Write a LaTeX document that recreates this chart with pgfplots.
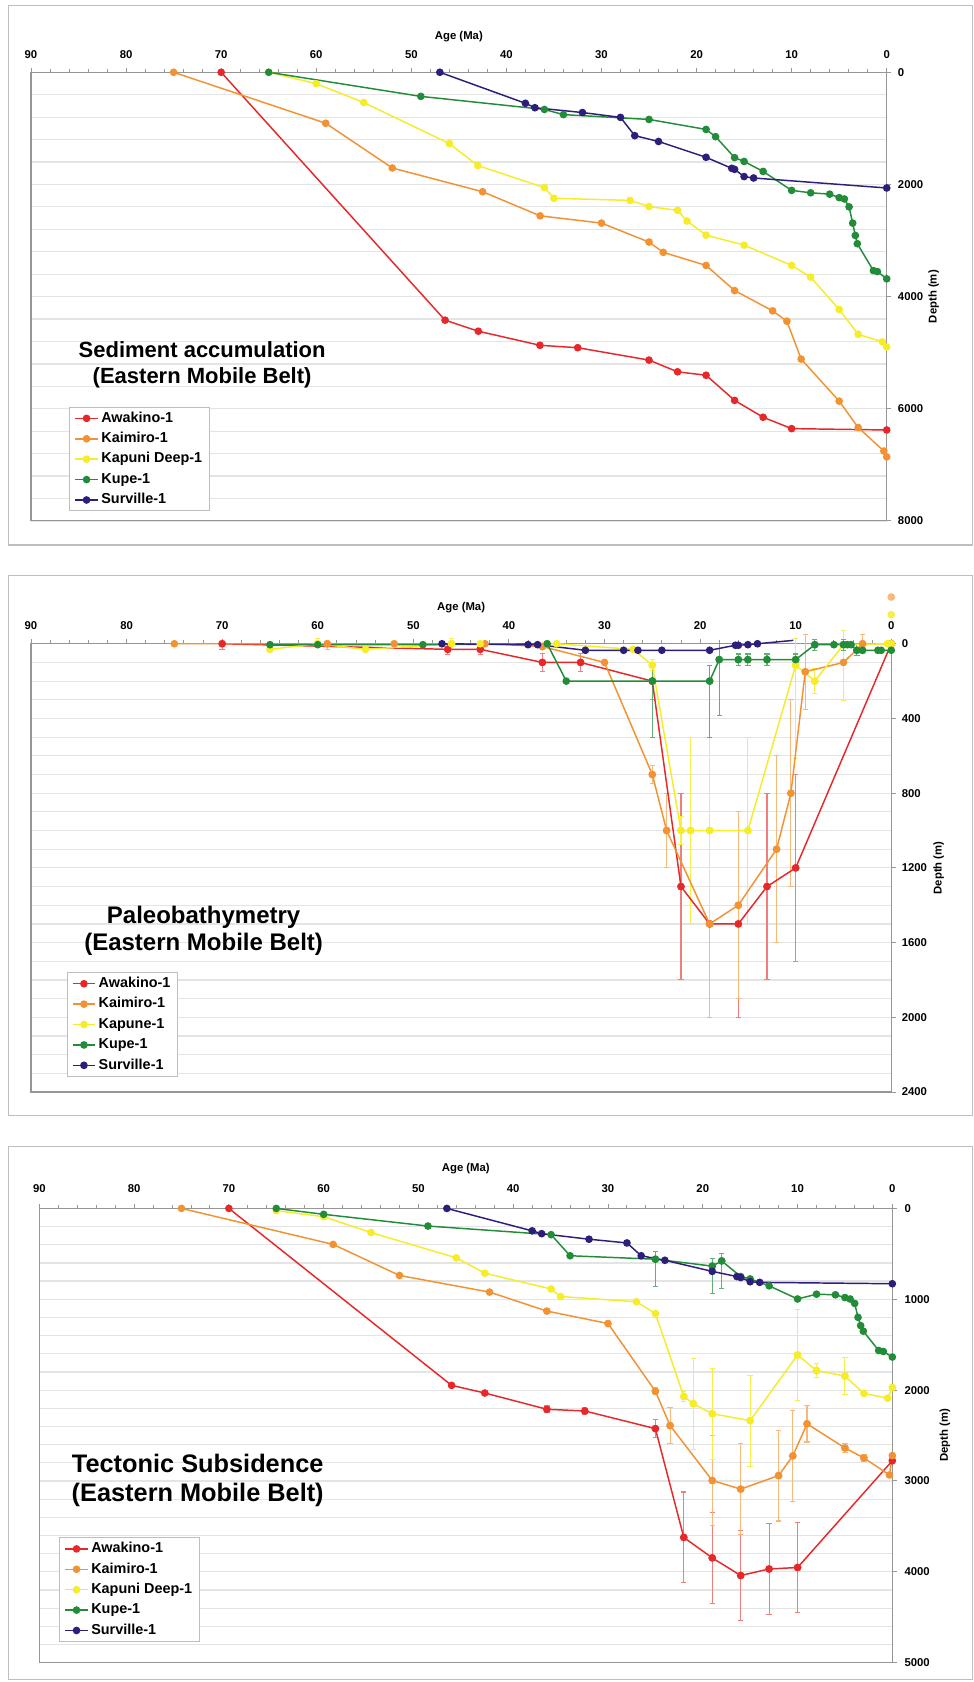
\documentclass[border=0pt]{standalone}
\usepackage{fontspec}
\setmainfont{Liberation Sans}
\usepackage{pgfplots}
\pgfplotsset{compat=1.18}
\definecolor{awred}{RGB}{230,40,42}
\definecolor{kaor}{RGB}{242,146,50}
\definecolor{kayel}{RGB}{246,236,40}
\definecolor{kugreen}{RGB}{34,140,56}
\definecolor{svnavy}{RGB}{44,30,122}
\definecolor{framegray}{RGB}{190,190,190}
\definecolor{gridgray}{RGB}{228,228,228}
\definecolor{axgray}{RGB}{150,150,150}
\newcommand{\tlfont}{\fontsize{8.5}{10}\selectfont\bfseries}
\pgfplotsset{
 panel/.style={
  scale only axis, x dir=reverse, y dir=reverse,
  xmin=0, xmax=90, xtick={0,10,...,90}, minor x tick num=4,
  xtick pos=top, xticklabel pos=top, ytick pos=right, yticklabel pos=right,
  axis line style={draw=axgray, line width=0.8pt},
  every tick/.style={draw=axgray, line width=0.7pt},
  tick align=outside,
  major tick length=3.5pt, minor tick length=2.5pt,
  minor y tick style={draw=none},
  ymajorgrids, yminorgrids,
  major grid style={draw=gridgray, line width=0.9pt},
  minor grid style={draw=gridgray, line width=0.9pt},
  tick label style={font=\tlfont},
  /pgf/number format/assume math mode=true,
  /pgf/number format/1000 sep={},
  legend cell align=left,
  legend style={draw=framegray, line width=0.7pt, inner ysep=2pt, inner xsep=3.5pt,
    font=\fontsize{10.8}{12}\selectfont\bfseries, row sep=2.9pt,
    nodes={inner xsep=2pt, inner ysep=1pt, text height=8pt, text depth=2.4pt},
    anchor=north west},
  clip=false,
  every axis plot/.append style={line width=1.1pt, mark=*, mark size=2.3pt},
 },
 errs/.style={forget plot, only marks, mark=none,
   error bars/y dir=both, error bars/y explicit,
   error bars/error bar style={line width=0.8pt},
   error bars/error mark options={rotate=90, mark size=2pt, line width=0.8pt}},
}
\begin{document}
\begin{tikzpicture}
\useasboundingbox (0pt,0pt) rectangle (730.5pt,-1261.5pt);
\fill[white] (0pt,0pt) rectangle (730.5pt,-1261.5pt);
\draw[framegray, line width=0.8pt] (6.2pt,-3.9pt) rectangle (729.4pt,-408.75pt);
\draw[framegray, line width=0.8pt] (6.2pt,-431.5pt) rectangle (729.4pt,-836.6pt);
\draw[framegray, line width=0.8pt] (6.2pt,-859.7pt) rectangle (729.4pt,-1259.3pt);

% ---------------- Panel 1: Sediment accumulation ----------------
\begin{axis}[panel, name=ax1, at={(23.25pt,-54.2pt)}, anchor=north west,
  width=641.8pt, height=336.5pt, ymin=0, ymax=8000, ytick={0,2000,...,8000},
  minor y tick num=4,
  xticklabel style={anchor=center, yshift=9.6pt},
  yticklabel style={anchor=west, xshift=1.4pt},
  legend style={at={(0.0448,0.254)}}]
\addplot[color=awred] coordinates {(70,0) (46.45,4420) (42.95,4617) (36.47,4868) (32.5,4911) (25,5132) (22,5341) (19,5402) (16,5850) (13,6151) (10,6354) (0,6378)};
\addplot[color=kaor] coordinates {(75,0) (59,909) (52,1707) (42.5,2130) (36.45,2560) (30,2689) (25,3027) (23.5,3211) (19,3444) (16,3892) (12,4254) (10.5,4438) (9,5114) (5,5863) (3,6335) (0.3,6753) (0,6857)};
\addplot[color=kayel] coordinates {(65,0) (60,203) (55,540) (46,1271) (43,1664) (36,2057) (35,2247) (27,2284) (25,2394) (22,2462) (21,2652) (19,2904) (15,3082) (10,3444) (8,3653) (5,4230) (3,4672) (0.45,4807) (0,4899)};
\addplot[color=kugreen] coordinates {(65,0) (49,430) (36,663) (34,755) (25,841) (19,1019) (18,1148) (16,1522) (15,1590) (13,1768) (10,2106) (8,2149) (6,2173) (5,2235) (4.45,2259) (3.96,2400) (3.58,2689) (3.3,2910) (3.09,3057) (1.4,3536) (0.98,3554) (0,3683)};
\addplot[color=svnavy] coordinates {(47,0) (38,553) (37,632) (32,718) (28,804) (26.5,1130) (24,1234) (19,1516) (16.3,1713) (16,1731) (15,1860) (14,1885) (0,2063)};
\legend{Awakino-1,Kaimiro-1,Kapuni Deep-1,Kupe-1,Surville-1}
\node[font=\fontsize{16.5}{19.6}\selectfont\bfseries, align=center] at (axis description cs:0.2,0.348) {Sediment accumulation\\(Eastern Mobile Belt)};
\end{axis}
\node[font=\tlfont] at ([yshift=26.6pt]ax1.north) {Age (Ma)};
\node[font=\tlfont, rotate=90] at ([xshift=35.3pt]ax1.east) {Depth (m)};

% ---------------- Panel 2: Paleobathymetry ----------------
\begin{axis}[panel, name=ax2, at={(23.25pt,-482.8pt)}, anchor=north west,
  width=645.2pt, height=336.2pt, ymin=0, ymax=2400, ytick={0,400,...,2400},
  minor y tick num=3,
  xticklabel style={anchor=center, yshift=9.9pt},
  yticklabel style={anchor=west, xshift=0.9pt},
  legend style={at={(0.0415,0.267)}}]
\addplot[errs, color=awred!60!white] coordinates {(70,0) += (0,30) -= (0,0) (46.4,30) +- (0,30) (43,30) +- (0,30) (36.5,100) +- (0,50) (32.5,100) +- (0,50) (25,200) +- (0,100) (22,1300) +- (0,500) (19,1500) +- (0,500) (16,1500) +- (0,500) (13,1300) +- (0,500) (10,1200) +- (0,500)};
\addplot[errs, color=kaor!65!white] coordinates {(59,0) += (0,30) -= (0,0) (36.5,15) +- (0,15) (25,700) +- (0,50) (23.5,1000) +- (0,200) (19,1500) +- (0,500) (16,1400) +- (0,500) (12,1100) +- (0,500) (10.5,800) +- (0,500) (9,150) +- (0,200) (3,0) +- (0,50) (0,-250) +- (0,15)};
\addplot[errs, color=kayel!85!white] coordinates {(60,0) += (0,0) -= (0,30) (46,0) += (0,0) -= (0,30) (25,115) +- (0,30) (22,1000) +- (0,75) (21,1000) +- (0,500) (19,1000) +- (0,500) (15,1000) +- (0,500) (10,115) += (0,500) -= (0,145) (8,200) +- (0,65) (5,5) += (0,300) -= (0,75) (0,-156) +- (0,0)};
\addplot[errs, color=kugreen!70!white] coordinates {(25,200) += (0,300) -= (0,85) (19,200) += (0,300) -= (0,85) (18,85) += (0,300) -= (0,85) (16,85) +- (0,30) (15,85) +- (0,30) (13,85) +- (0,30) (10,85) +- (0,30) (8,5) +- (0,30) (5,5) +- (0,30) (3.6,35) +- (0,30)};
\addplot[color=awred] coordinates {(70,0) (46.4,30) (43,30) (36.5,100) (32.5,100) (25,200) (22,1300) (19,1500) (16,1500) (13,1300) (10,1200) (0,0)};
\addplot[color=kaor] coordinates {(75,0) (59,0) (52,0) (42.5,0) (36.5,15) (30,100) (25,700) (23.5,1000) (19,1500) (16,1400) (12,1100) (10.5,800) (9,150) (5,100) (3,0) (0,0)};
\addplot[color=kayel] coordinates {(65,30) (60,0) (55,30) (46,0) (43,0) (36,0) (35,0) (27,30) (25,115) (22,1000) (21,1000) (19,1000) (15,1000) (10,115) (8,200) (5,5) (0.4,0) (0,0)};
\addplot[color=kugreen] coordinates {(65,5) (60,5) (49,5) (36,0) (34,200) (25,200) (19,200) (18,85) (16,85) (15,85) (13,85) (10,85) (8,5) (6,5) (5,5) (4.6,5) (4.2,5) (3.6,35) (3,35) (1.4,35) (1.05,35) (0,35)};
\addplot[color=svnavy] coordinates {(47,0) (38,5) (37,5) (32,35) (28,35) (26.5,35) (24,35) (19,35) (16.3,8) (16,8) (15,5) (14,0)};
\addplot[forget plot, color=svnavy, mark=none] coordinates {(14,0) (10.25,-18)};
\legend{Awakino-1,Kaimiro-1,Kapune-1,Kupe-1,Surville-1}
\node[font=\fontsize{18}{20.5}\selectfont\bfseries, align=center] at (axis description cs:0.2007,0.3595) {Paleobathymetry\\(Eastern Mobile Belt)};
\end{axis}
\node[font=\tlfont] at ([yshift=27.2pt]ax2.north) {Age (Ma)};
\node[font=\tlfont, rotate=90] at ([xshift=35.5pt]ax2.east) {Depth (m)};

% ---------------- Panel 3: Tectonic subsidence ----------------
\begin{axis}[panel, name=ax3, at={(29.5pt,-906.3pt)}, anchor=north west,
  width=639.75pt, height=340.65pt, ymin=0, ymax=5000, ytick={0,1000,...,5000},
  minor y tick num=4,
  xticklabel style={anchor=center, yshift=11.2pt},
  yticklabel style={anchor=west, xshift=2.1pt},
  legend style={at={(0.0234,0.2755)}}]
\addplot[errs, color=awred!60!white] coordinates {(36.45,2211) +- (0,40) (32.45,2230) +- (0,40) (25,2424) +- (0,100) (22,3622) +- (0,500) (19,3847) +- (0,500) (16,4041) +- (0,500) (13,3969) +- (0,500) (10,3953) +- (0,500)};
\addplot[errs, color=kaor!65!white] coordinates {(25,2013) +- (0,40) (23.45,2390) +- (0,200) (19,2995) +- (0,500) (16,3090) +- (0,500) (12,2941) +- (0,500) (10.5,2724) +- (0,500) (9,2371) +- (0,200) (5,2637) +- (0,50) (3,2747) +- (0,40)};
\addplot[errs, color=kayel!85!white] coordinates {(22,2070) +- (0,60) (21,2150) +- (0,500) (19,2260) +- (0,500) (15,2336) +- (0,500) (10,1613) +- (0,500) (8,1785) +- (0,75) (5,1845) +- (0,200)};
\addplot[errs, color=kugreen!70!white] coordinates {(25,559) += (0,300) -= (0,85) (19,635) += (0,300) -= (0,85) (18,578) += (0,300) -= (0,85)};
\addplot[color=awred] coordinates {(70,0) (46.5,1948) (43,2032) (36.45,2211) (32.45,2230) (25,2424) (22,3622) (19,3847) (16,4041) (13,3969) (10,3953) (0,2778)};
\addplot[color=kaor] coordinates {(75,0) (59,396) (52,738) (42.5,921) (36.45,1130) (30,1267) (25,2013) (23.45,2390) (19,2995) (16,3090) (12,2941) (10.5,2724) (9,2371) (5,2637) (3,2747) (0.3,2934) (0,2721)};
\addplot[color=kayel] coordinates {(65,25) (60,91) (55,266) (46,544) (43,713) (36,887) (35,970) (27,1027) (25,1157) (22,2070) (21,2150) (19,2260) (15,2336) (10,1613) (8,1785) (5,1845) (3,2036) (0.5,2089) (0,1971)};
\addplot[color=kugreen] coordinates {(65,0) (60,65) (49,194) (36,289) (34,521) (25,559) (19,635) (18,578) (16,750) (15,776) (13,852) (10,997) (8,944) (6,951) (5,981) (4.45,997) (3.97,1046) (3.62,1199) (3.34,1290) (3.06,1351) (1.44,1564) (0.95,1575) (0,1636)};
\addplot[color=svnavy] coordinates {(47,0) (38,247) (37,278) (32,339) (28,380) (26.5,521) (24,571) (19,693) (16.4,750) (16,761) (15,807) (14,814) (0,829)};
\legend{Awakino-1,Kaimiro-1,Kapuni Deep-1,Kupe-1,Surville-1}
\node[font=\fontsize{19}{22.3}\selectfont\bfseries, align=center] at (axis description cs:0.1857,0.401) {Tectonic Subsidence\\(Eastern Mobile Belt)};
\end{axis}
\node[font=\tlfont] at ([yshift=29.8pt]ax3.north) {Age (Ma)};
\node[font=\tlfont, rotate=90] at ([xshift=39.5pt]ax3.east) {Depth (m)};
\end{tikzpicture}
\end{document}
